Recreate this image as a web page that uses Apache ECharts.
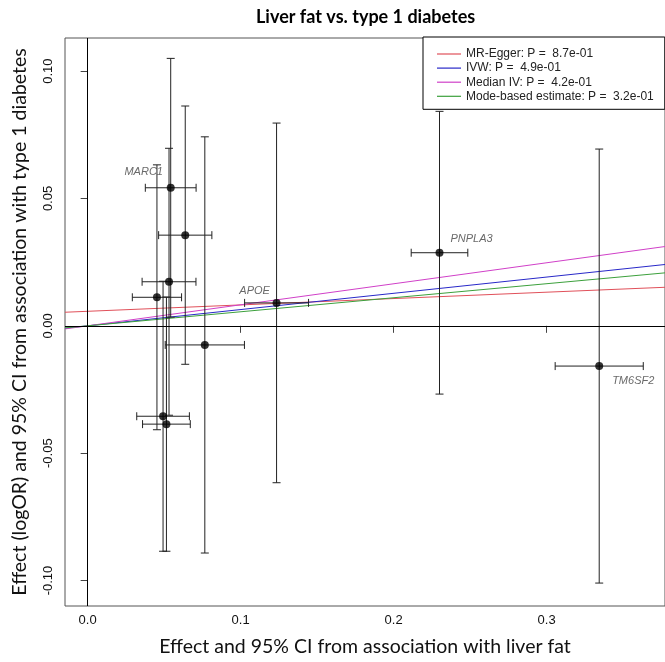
<!DOCTYPE html>
<html>
<head>
<meta charset="utf-8">
<script src="https://cdn.jsdelivr.net/npm/echarts@6/dist/echarts.min.js"></script>
<style>
html, body { margin: 0; padding: 0; background: #fff; }
#main { width: 665px; height: 662px; }
</style>
</head>
<body>
<div id="main"></div>
<script>
// SNP-level estimates
var snpNames = ["MARC1", "", "", "", "", "", "", "APOE", "PNPLA3", "TM6SF2"];
var betaFat = [0.0543, 0.0638, 0.0532, 0.0453, 0.0766, 0.0493, 0.0515, 0.1235, 0.2300, 0.3344];
var ciFat = [0.0166, 0.0174, 0.0176, 0.0161, 0.0259, 0.0172, 0.0156, 0.0209, 0.0185, 0.0288];
var betaT1d = [0.0542, 0.0356, 0.0173, 0.0112, -0.0075, -0.0355, -0.0386, 0.0090, 0.0287, -0.0158];
var ciT1d = [0.0508, 0.0507, 0.0524, 0.0520, 0.0817, 0.0530, 0.0499, 0.0706, 0.0555, 0.0852];

// MR method fits
var methodNames = [
    "MR-Egger: P =  8.7e-01",
    "IVW: P =  4.9e-01",
    "Median IV: P =  4.2e-01",
    "Mode-based estimate: P =  3.2e-01",
];
var methodIntercepts = [0.0057, 0, 0, 0];
var methodSlopes = [0.025, 0.0638, 0.0825, 0.0551];

var xTicks = [0, 0.1, 0.2, 0.3];
var yTicks = [-0.1, -0.05, 0, 0.05, 0.1];

var xMin = -0.0148, xMax = 0.3774;
var yMin = -0.110, yMax = 0.113;

var methodColors = ["#E0505A", "#2828C8", "#D040C8", "#3CA03C"];
var labelOffsets = {
    MARC1: [-27, -16],
    APOE: [-22, -12],
    PNPLA3: [32, -14],
    TM6SF2: [34, 15],
};

var myChart = echarts.init(document.getElementById("main"));

var errData = betaFat.map(function (b, i) {
    return [b, betaT1d[i], ciFat[i], ciT1d[i]];
});

var pointData = betaFat.map(function (b, i) {
    var item = { value: [b, betaT1d[i]], name: snpNames[i] };
    if (snpNames[i]) {
        item.label = {
            show: true,
            position: "inside",
            offset: labelOffsets[snpNames[i]],
            formatter: snpNames[i],
        };
    }
    return item;
});

var series = [];

methodNames.forEach(function (name, i) {
    series.push({
        name: name,
        type: "line",
        symbol: "none",
        silent: true,
        z: 3,
        lineStyle: { color: methodColors[i], width: 1 },
        itemStyle: { color: methodColors[i] },
        data: [
            [xMin, methodIntercepts[i] + methodSlopes[i] * xMin],
            [xMax, methodIntercepts[i] + methodSlopes[i] * xMax],
        ],
    });
});

series.push({
    type: "custom",
    silent: true,
    clip: false,
    z: 4,
    data: errData,
    renderItem: function (params, api) {
        var bx = api.value(0), by = api.value(1), sx = api.value(2), sy = api.value(3);
        var c = api.coord([bx, by]);
        var top = api.coord([bx, by + sy]);
        var bot = api.coord([bx, by - sy]);
        var lft = api.coord([bx - sx, by]);
        var rgt = api.coord([bx + sx, by]);
        var st = { stroke: "#222", lineWidth: 1 };
        var cap = 4;
        function seg(x1, y1, x2, y2) {
            return { type: "line", shape: { x1: x1, y1: y1, x2: x2, y2: y2 }, style: st };
        }
        return {
            type: "group",
            children: [
                seg(c[0], top[1], c[0], bot[1]),
                seg(c[0] - cap, top[1], c[0] + cap, top[1]),
                seg(c[0] - cap, bot[1], c[0] + cap, bot[1]),
                seg(lft[0], c[1], rgt[0], c[1]),
                seg(lft[0], c[1] - cap, lft[0], c[1] + cap),
                seg(rgt[0], c[1] - cap, rgt[0], c[1] + cap),
            ],
        };
    },
});

series.push({
    type: "scatter",
    symbolSize: 8,
    z: 5,
    itemStyle: { color: "#000" },
    label: {
        color: "#444",
        fontStyle: "italic",
        fontFamily: "Liberation Sans",
        fontSize: 11,
    },
    data: pointData,
    markLine: {
        silent: true,
        symbol: ["none", "none"],
        label: { show: false },
        lineStyle: { color: "#000", width: 1, type: "solid" },
        data: [{ xAxis: 0 }, { yAxis: 0 }],
        animation: false,
    },
});

var option = {
    animation: false,
    title: {
        text: "Liver fat vs. type 1 diabetes",
        left: 251,
        top: 3,
        textStyle: { fontFamily: "Lato", fontWeight: "bold", fontSize: 18, color: "#000" },
    },
    legend: {
        data: methodNames,
        orient: "vertical",
        icon: "rect",
        left: 423,
        top: 37,
        padding: [11, 11, 7, 14],
        itemGap: 2.1,
        itemWidth: 24,
        itemHeight: 1.2,
        backgroundColor: "#fff",
        borderColor: "#000",
        borderWidth: 1,
        borderRadius: 0,
        selectedMode: false,
        textStyle: { fontFamily: "Liberation Sans", fontSize: 12, color: "#222" },
    },
    grid: {
        left: 65,
        right: -2,
        top: 38,
        bottom: 56,
        show: true,
        borderColor: "#555",
        borderWidth: 1,
    },
    xAxis: {
        type: "value",
        min: xMin,
        max: xMax,
        name: "Effect and 95% CI from association with liver fat",
        nameLocation: "middle",
        nameGap: 31,
        nameTextStyle: { fontFamily: "Lato", fontSize: 19.5, color: "#111" },
        splitLine: { show: false },
        axisLine: { show: false },
        axisTick: { show: true, length: 7, customValues: xTicks, lineStyle: { color: "#444" } },
        axisLabel: {
            customValues: xTicks,
            margin: 8,
            fontFamily: "Liberation Sans",
            fontSize: 13,
            color: "#111",
            formatter: function (v) { return v.toFixed(1); },
        },
    },
    yAxis: {
        type: "value",
        min: yMin,
        max: yMax,
        name: "Effect (logOR) and 95% CI from association with type 1 diabetes",
        nameLocation: "middle",
        nameGap: 35,
        nameTextStyle: { fontFamily: "Lato", fontSize: 19.5, color: "#111" },
        splitLine: { show: false },
        axisLine: { show: false },
        axisTick: { show: true, length: 7, customValues: yTicks, lineStyle: { color: "#444" } },
        axisLabel: {
            customValues: yTicks,
            rotate: 90,
            margin: 10,
            fontFamily: "Liberation Sans",
            fontSize: 13,
            color: "#111",
            formatter: function (v) { return v.toFixed(2); },
        },
    },
    series: series,
};

option && myChart.setOption(option);
</script>
</body>
</html>
